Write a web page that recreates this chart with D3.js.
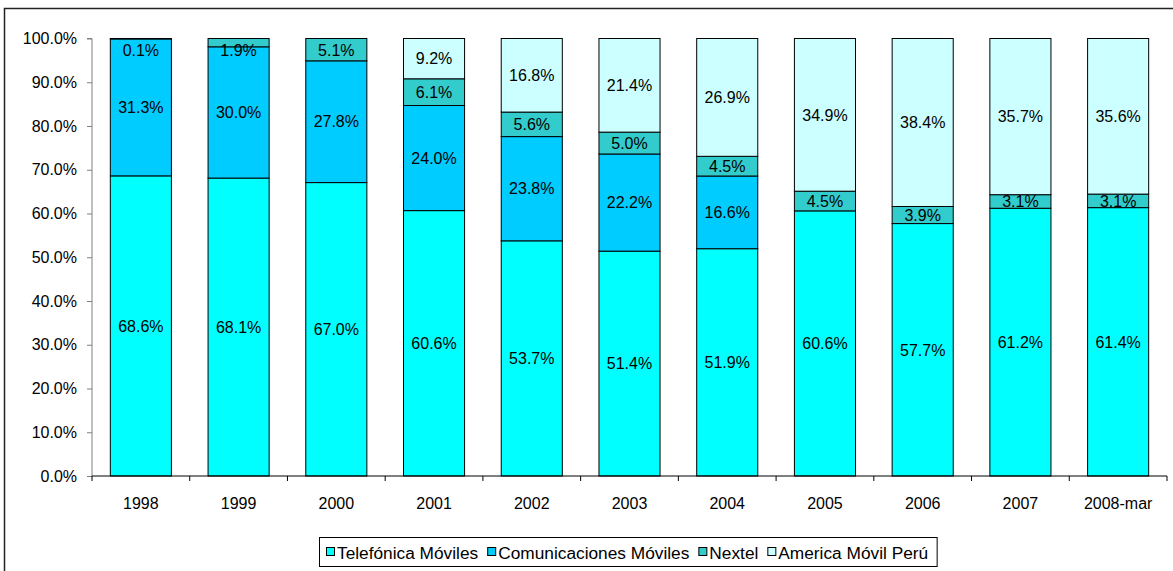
<!DOCTYPE html>
<html>
<head>
<meta charset="utf-8">
<script src="https://cdn.jsdelivr.net/npm/d3@7/dist/d3.min.js"></script>
<style>
  html, body { margin: 0; padding: 0; background: #fff; }
  svg { display: block; font-family: "Liberation Sans", Arial, sans-serif; }
</style>
</head>
<body>
<svg id="chart" width="1173" height="571"></svg>
<script>
const categories = ["1998", "1999", "2000", "2001", "2002", "2003", "2004", "2005", "2006", "2007", "2008-mar"];
const seriesNames = ["Telefónica Móviles", "Comunicaciones Móviles", "Nextel", "America Móvil Perú"];
const telefonica = [68.6, 68.1, 67.0, 60.6, 53.7, 51.4, 51.9, 60.6, 57.7, 61.2, 61.4];
const comunicaciones = [31.3, 30.0, 27.8, 24.0, 23.8, 22.2, 16.6, 0, 0, 0, 0];
const nextel = [0.1, 1.9, 5.1, 6.1, 5.6, 5.0, 4.5, 4.5, 3.9, 3.1, 3.1];
const america = [0, 0, 0, 9.2, 16.8, 21.4, 26.9, 34.9, 38.4, 35.7, 35.6];
const yTicks = [0, 10, 20, 30, 40, 50, 60, 70, 80, 90, 100];
const colors = ["#00FFFF", "#00CCFF", "#33CCCC", "#CCFFFF"];

(function () {
const seriesValues = [telefonica, comunicaciones, nextel, america];
const table = categories.map((c, i) => {
  const row = { cat: c };
  seriesNames.forEach((s, k) => row[s] = seriesValues[k][i]);
  return row;
});

const svg = d3.select("#chart");
svg.append("rect").attr("x", 4.5).attr("y", 8.5).attr("width", 1200).attr("height", 600)
  .attr("fill", "none").attr("stroke", "#222").attr("stroke-width", 1.5);

const pLeft = 92, pRight = 1167, pTop = 38.5, pBottom = 476;
const x = d3.scaleBand().domain(categories).range([pLeft, pRight]).paddingInner(0.375).paddingOuter(0.1875);
const xTicksScale = d3.scaleBand().domain(categories).range([pLeft, pRight]);
const y = d3.scaleLinear().domain([0, 100]).range([pBottom, pTop]);

const stack = d3.stack().keys(seriesNames).offset(d3.stackOffsetExpand);
const stacked = stack(table);

const g = svg.append("g");
stacked.forEach((layer, k) => {
  g.selectAll(null).data(layer.filter(d => d.data[seriesNames[k]] > 0)).enter().append("rect")
    .attr("x", d => x(d.data.cat))
    .attr("width", x.bandwidth())
    .attr("y", d => y(d[1] * 100))
    .attr("height", d => y(d[0] * 100) - y(d[1] * 100))
    .attr("fill", colors[k])
    .attr("stroke", "#000")
    .attr("stroke-width", 1);
});

stacked.forEach((layer, k) => {
  g.selectAll(null).data(layer.filter(d => d.data[seriesNames[k]] > 0)).enter().append("text")
    .attr("x", d => x(d.data.cat) + x.bandwidth() / 2)
    .attr("y", d => Math.max(y((d[0] + d[1]) / 2 * 100), pTop + 12))
    .attr("dy", "0.36em")
    .attr("text-anchor", "middle")
    .attr("font-size", 16)
    .attr("fill", "#000")
    .text(d => d.data[seriesNames[k]].toFixed(1) + "%");
});

const yAxis = d3.axisLeft(y).tickValues(yTicks).tickSize(5).tickFormat(d => d.toFixed(1) + "%");
const ya = svg.append("g").attr("transform", `translate(${pLeft},0)`).call(yAxis);
ya.select(".domain").attr("stroke", "#808080").attr("d", `M-5,${pTop}H0V${pBottom}`);
ya.selectAll(".tick line").attr("stroke", "#808080");
ya.selectAll(".tick text").attr("font-size", 16).attr("fill", "#000").attr("x", -15)
  .attr("font-family", "Liberation Sans, Arial, sans-serif");

const xa = svg.append("g").attr("transform", `translate(0,${pBottom})`);
xa.append("line").attr("x1", pLeft).attr("x2", pRight).attr("y1", 0).attr("y2", 0).attr("stroke", "#000");
const bounds = categories.map(c => xTicksScale(c)).concat([pRight]);
xa.selectAll(null).data(bounds).enter().append("line")
  .attr("x1", d => d).attr("x2", d => d).attr("y1", 0).attr("y2", 5).attr("stroke", "#000");
xa.selectAll(null).data(categories).enter().append("text")
  .attr("x", d => xTicksScale(d) + xTicksScale.bandwidth() / 2)
  .attr("y", 33)
  .attr("text-anchor", "middle")
  .attr("font-size", 16)
  .attr("fill", "#000")
  .text(d => d);

const lg = svg.append("g");
const lgBox = lg.append("rect").attr("x", 319.5).attr("y", 537.5).attr("height", 29)
  .attr("fill", "#fff").attr("stroke", "#000").attr("stroke-width", 1);
let cx = 326;
seriesNames.forEach((s, k) => {
  lg.append("rect").attr("x", cx + 0.5).attr("y", 547.5).attr("width", 8).attr("height", 8)
    .attr("fill", colors[k]).attr("stroke", "#000");
  const t = lg.append("text").attr("x", cx + 11).attr("y", 558.5).attr("font-size", 17.3)
    .attr("fill", "#000").text(s);
  cx += 11 + t.node().getComputedTextLength() + 9;
});
lgBox.attr("width", cx - 319.5);
})();
</script>
</body>
</html>
